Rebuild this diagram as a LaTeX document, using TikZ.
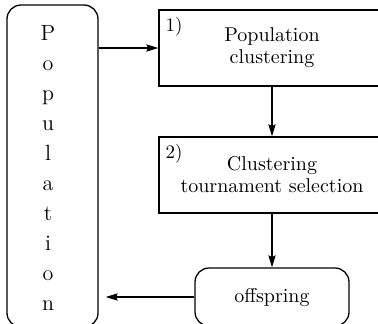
\documentclass[tikz,border=0pt]{standalone}
\usetikzlibrary{arrows.meta}
\begin{document}
\begin{tikzpicture}[x=0.5pt,y=-0.5pt,
  line width=0.65pt,
  every node/.style={font=\fontsize{10}{11}\selectfont},
  stepbox/.style={draw, rectangle, minimum width=113pt, minimum height=38pt, align=center, inner sep=0pt},
  roundbox/.style={draw, rectangle, rounded corners=7pt, inner sep=0pt},
  tag/.style={anchor=north west, inner sep=0pt, font=\fontsize{9.5}{10}\selectfont},
  letter/.style={anchor=base, inner sep=0pt, font=\fontsize{11}{12}\selectfont},
  arr/.style={-{Stealth[length=6pt,width=3.6pt,inset=0.8pt]}}]
\useasboundingbox (0,0) rectangle (378,323);
\clip (0,0) rectangle (378,323);
% population column
\node[roundbox, minimum width=45.5pt, minimum height=161pt] (pop) at (52.5,166) {};
\foreach \ch [count=\i] in {P,o,p,u,l,a,t,i,o,n}{
  \node[letter] (l\i) at (48,{40+30*(\i-1)}) {\ch};
}
% step boxes
\node[stepbox] (b1) at (272,48) {Population\\clustering};
\node[tag] (t1) at (165,17) {1)};
\node[stepbox] (b2) at (272,175) {\raisebox{-3pt}{\parbox{112pt}{\centering Clustering\\tournament selection}}};
\node[tag] (t2) at (165,144) {2)};
% offspring
\node[roundbox, minimum width=77pt, minimum height=29pt] (off) at (272,297) {offspring};
% connectors
\draw[arr] (b1.west -| pop.east) -- (b1.west);
\draw[arr] (b1.south) -- (b2.north);
\draw[arr] (b2.south) -- (off.north);
\draw[arr, shorten >=3.5pt] (off.west) -- (off.west -| pop.east);
\end{tikzpicture}
\end{document}
